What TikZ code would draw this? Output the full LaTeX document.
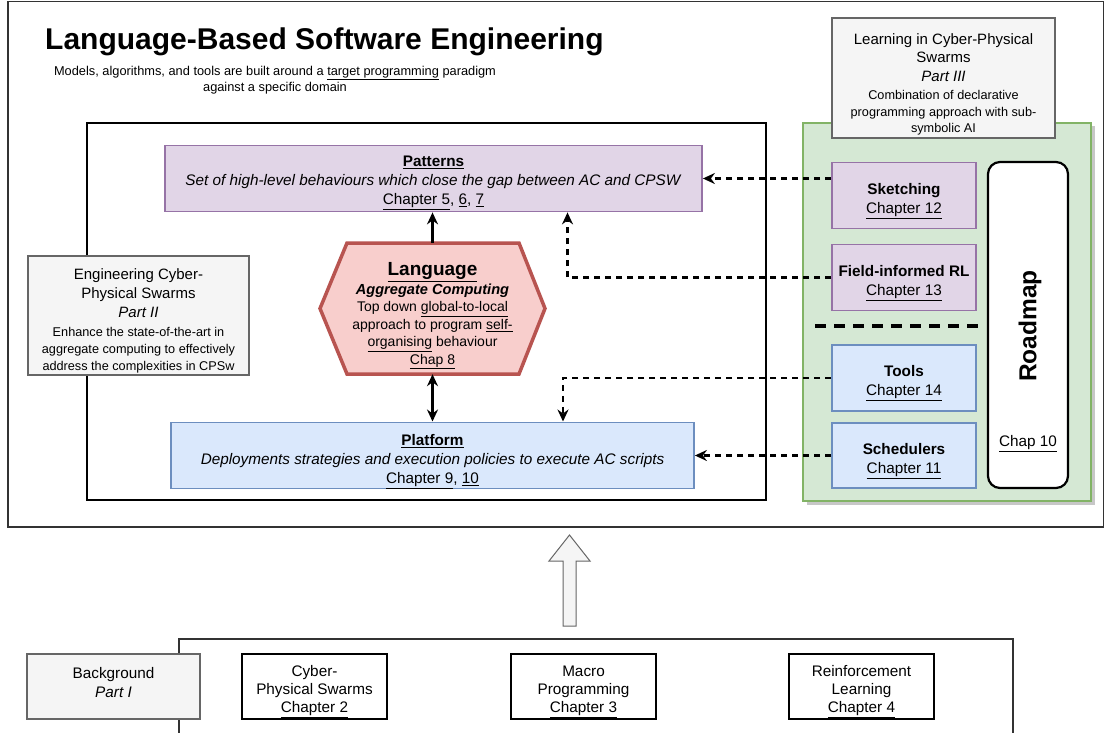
\documentclass[tikz,border=0pt]{standalone}
\usepackage{fontspec}
\setmainfont{Liberation Sans}
\usetikzlibrary{arrows.meta}
\definecolor{purpF}{HTML}{E1D5E7}
\definecolor{purpS}{HTML}{9673A6}
\definecolor{bluF}{HTML}{DAE8FC}
\definecolor{bluS}{HTML}{6C8EBF}
\definecolor{redF}{HTML}{F8CECC}
\definecolor{redS}{HTML}{B85450}
\definecolor{grnF}{HTML}{D5E8D4}
\definecolor{grnS}{HTML}{82B366}
\definecolor{gryF}{HTML}{F5F5F5}
\definecolor{gryS}{HTML}{666666}
\definecolor{frameC}{HTML}{333333}
\newcommand{\fsz}[2]{\fontsize{#1}{#2}\selectfont}
\newcommand{\tsp}[1]{\rule{0pt}{#1pt}}
\tikzset{
  box/.style={draw, align=center, inner sep=0pt, text=black, font=\fsz{15.3}{19}},
  purp/.style={box, fill=purpF, draw=purpS, line width=1.8pt},
  blu/.style={box, fill=bluF, draw=bluS, line width=1.8pt},
  gry/.style={box, fill=gryF, draw=gryS, line width=2pt},
  blk/.style={box, fill=white, draw=black, line width=2.2pt},
  tip/.style={-{Stealth[length=12pt,width=11pt,inset=4pt]}},
  solarr/.style={tip, line width=2.2pt},
  dblarr/.style={{Stealth[length=12pt,width=11pt,inset=4pt]}-{Stealth[length=12pt,width=11pt,inset=4pt]}, line width=2.2pt},
  dasharr/.style={tip, line width=2.2pt, dash pattern=on 6pt off 5pt},
  sepline/.style={line width=3.5pt, dash pattern=on 11pt off 8pt},
}
\begin{document}
\begin{tikzpicture}[x=1pt,y=-1pt]
\useasboundingbox (0,0) rectangle (1105,733);
\fill[white] (0,0) rectangle (1105,733);

% outer frame
\draw[frameC, line width=1.2pt] (8,1.5) rectangle (1103.5,527);

% title
\node[anchor=base west, inner sep=0pt, font=\fsz{30}{34}\bfseries] (title) at (45,50) {Language-Based Software Engineering};
\node[align=center, inner sep=0pt, font=\fsz{12.8}{15.5}] (subtitle) at (275,80) {Models, algorithms, and tools are built around a \underline{target programming} paradigm\\against a specific domain};

% main box
\node[draw=black, line width=2.2pt, minimum width=679pt, minimum height=377pt, inner sep=0pt] (main) at (426.5,311.5) {};

% patterns
\node[purp, minimum width=537pt, minimum height=66pt] (pat) at (433.5,178.5)
  {\tsp{20}\textbf{\underline{Patterns}}\\\textit{Set of high-level behaviours which close the gap between AC and CPSW}\\\underline{Chapter 5}, \underline{6}, \underline{7}};

% platform
\node[blu, minimum width=523pt, minimum height=65pt] (plat) at (432.5,455.5)
  {\tsp{23}\textbf{\underline{Platform}}\\\textit{Deployments strategies and execution policies to execute AC scripts}\\\underline{Chapter 9}, \underline{10}};

% language hexagon
\draw[fill=redF, draw=redS, line width=3.5pt, line join=miter] (320,308.5) -- (347,243) -- (519,243) -- (545,308.5) -- (519,374) -- (347,374) -- cycle;
\node[align=center, inner sep=0pt, minimum width=225pt, minimum height=131pt, font=\fsz{14}{17.5}] (lang) at (432.5,308.5)
  {{\fsz{19}{20}\bfseries\tsp{28}\underline{Language}}\\[1pt]{\fsz{14.6}{16}\bfseries\itshape Aggregate Computing}\\Top down \underline{global-to-local}\\approach to program \underline{self-}\\\underline{organising} behaviour\\\underline{Chap 8}};

\draw[solarr] (lang.north) -- (lang.north |- pat.south);
\draw[dblarr] (lang.south) -- (lang.south |- plat.north);

% engineering part II
\node[gry, minimum width=221pt, minimum height=119pt, font=\fsz{15}{19}] (eng) at (138.5,315.5)
  {\tsp{22}Engineering Cyber-\\Physical Swarms\\\textit{Part II}\\{\fsz{12.7}{14}Enhance the state-of-the-art in}\\[-2pt]{\fsz{12.7}{14}aggregate computing to effectively}\\[-2pt]{\fsz{12.7}{14}address the complexities in CPSw}};

% green panel
\fill[black!22] (806.5,126.5) rectangle (1094.5,504.5);
\node[draw=grnS, fill=grnF, line width=2pt, minimum width=288pt, minimum height=378pt, inner sep=0pt] (grn) at (947,312) {};

% learning part III
\node[gry, minimum width=223pt, minimum height=120pt, font=\fsz{15}{18.5}] (learn) at (943.5,78)
  {\tsp{24}Learning in Cyber-Physical\\Swarms\\\textit{Part III}\\{\fsz{12.7}{14}Combination of declarative}\\[-2pt]{\fsz{12.7}{14}programming approach with sub-}\\[-2pt]{\fsz{12.7}{14}symbolic AI}};

\node[purp, minimum width=144pt, minimum height=66pt] (sk) at (904,195.5) {\tsp{22}\textbf{Sketching}\\\underline{Chapter 12}};
\node[purp, minimum width=144pt, minimum height=66pt] (fi) at (904,277.5) {\tsp{23}\textbf{Field-informed RL}\\\underline{Chapter 13}};
\node[blu, minimum width=144pt, minimum height=66pt] (tools) at (904,378) {\tsp{21}\textbf{Tools}\\\underline{Chapter 14}};
\node[blu, minimum width=144pt, minimum height=65pt] (sched) at (904,455.5) {\tsp{22}\textbf{Schedulers}\\\underline{Chapter 11}};

\node[draw=black, fill=white, line width=2.2pt, rounded corners=12pt, minimum width=80pt, minimum height=326pt, inner sep=0pt] (road) at (1028,325) {};
\node[rotate=90, inner sep=0pt, font=\fsz{24.5}{26}\bfseries] (roadt) at (1030,326) {Roadmap};
\node[inner sep=0pt, font=\fsz{15.3}{17}] (roadc) at (1028,444) {\underline{Chap 10}};

\coordinate (sepL) at (815,326);
\coordinate (sepR) at (985,326);
\draw[sepline] (sepL) -- (sepR);

% dashed connectors
\draw[dasharr] (sk.west |- pat.east) -- (pat.east);
\draw[dasharr] (fi.west) -| ([xshift=134pt]pat.south);
\draw[dasharr] (tools.west) -| ([xshift=130.5pt]plat.north);
\draw[dasharr] (sched.west) -- (plat.east);

% big hollow arrow
\draw[fill=gryF, draw=gryS, line width=1pt, line join=miter] (563,626) -- (576,626) -- (576,561) -- (590,561) -- (569.5,535) -- (549,561) -- (563,561) -- cycle;

% background part I
\draw[frameC, line width=1.2pt] (179,735) -- (179,639) -- (1013,639) -- (1013,735);
\node[gry, minimum width=173pt, minimum height=65pt] (bg) at (113.5,686.5) {\tsp{18}Background\\\textit{Part I}\\[-4pt]\mbox{}};
\node[blk, minimum width=145pt, minimum height=65pt, font=\fsz{15.3}{18.3}] (cps) at (314.5,686.5) {\tsp{21}Cyber-\\Physical Swarms\\\underline{Chapter 2}};
\node[blk, minimum width=145pt, minimum height=65pt, font=\fsz{15.3}{18.3}] (macro) at (583.5,686.5) {\tsp{21}Macro\\Programming\\\underline{Chapter 3}};
\node[blk, minimum width=145pt, minimum height=65pt, font=\fsz{15.3}{18.3}] (rl) at (861.5,686.5) {\tsp{21}Reinforcement\\Learning\\\underline{Chapter 4}};
\end{tikzpicture}
\end{document}
